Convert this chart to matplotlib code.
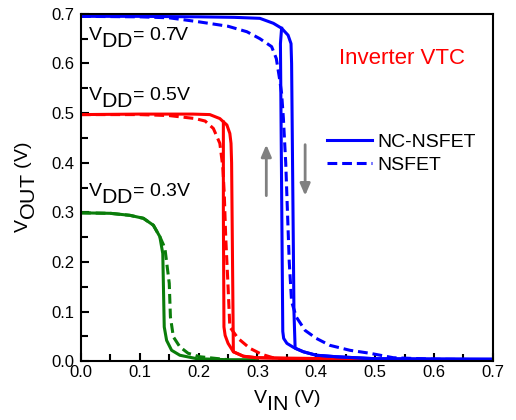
import numpy as np
import matplotlib
matplotlib.use('Agg')
import matplotlib.pyplot as plt
import matplotlib._mathtext as mathtext_internal

# subscripts in the original are about as big as the main text and sit lower
mathtext_internal.SHRINK_FACTOR = 1.1
mathtext_internal.FontConstantsBase.sub1 = 0.7

plt.rcParams['font.family'] = ['Liberation Sans', 'DejaVu Sans']
plt.rcParams['mathtext.fontset'] = 'custom'
plt.rcParams['mathtext.rm'] = 'Liberation Sans'

# VDD = 0.7 V, NC-NSFET (hysteresis: forward and backward sweep)
b_fw_vin = [0.0, 0.1, 0.2, 0.26, 0.304, 0.327, 0.341, 0.352, 0.357, 0.358, 0.360, 0.362, 0.364, 0.378, 0.40, 0.434, 0.5, 0.6, 0.7]
b_fw_vout = [0.695, 0.695, 0.694, 0.693, 0.691, 0.681, 0.671, 0.657, 0.640, 0.60, 0.35, 0.10, 0.026, 0.019, 0.012, 0.009, 0.005, 0.004, 0.004]
b_bw_vin = [0.7, 0.5, 0.434, 0.40, 0.378, 0.361, 0.35, 0.3445, 0.343, 0.341, 0.339, 0.341]
b_bw_vout = [0.004, 0.005, 0.009, 0.012, 0.019, 0.028, 0.036, 0.046, 0.06, 0.35, 0.64, 0.671]
# VDD = 0.7 V, NSFET
b_ns_vin = [0.0, 0.1, 0.15, 0.2, 0.25, 0.282, 0.304, 0.324, 0.332, 0.337, 0.341, 0.344, 0.348, 0.351, 0.354, 0.358, 0.366, 0.381, 0.40, 0.423, 0.457, 0.491, 0.531, 0.6, 0.7]
b_ns_vout = [0.695, 0.694, 0.692, 0.684, 0.675, 0.664, 0.65, 0.634, 0.61, 0.573, 0.54, 0.49, 0.40, 0.30, 0.20, 0.12, 0.089, 0.062, 0.046, 0.032, 0.022, 0.016, 0.007, 0.004, 0.003]

# VDD = 0.5 V
r_fw_vin = [0.0, 0.1, 0.19, 0.219, 0.236, 0.248, 0.253, 0.255, 0.256, 0.259, 0.276, 0.298, 0.4, 0.5]
r_fw_vout = [0.497, 0.498, 0.498, 0.497, 0.489, 0.476, 0.459, 0.439, 0.40, 0.019, 0.010, 0.007, 0.004, 0.004]
r_bw_vin = [0.5, 0.298, 0.276, 0.259, 0.25, 0.245, 0.243, 0.242, 0.242]
r_bw_vout = [0.004, 0.007, 0.010, 0.019, 0.036, 0.052, 0.069, 0.30, 0.482]
r_ns_vin = [0.0, 0.1, 0.15, 0.194, 0.211, 0.225, 0.236, 0.241, 0.2435, 0.246, 0.25, 0.253, 0.267, 0.287, 0.307, 0.332, 0.35]
r_ns_vout = [0.497, 0.497, 0.495, 0.489, 0.484, 0.469, 0.439, 0.392, 0.338, 0.25, 0.15, 0.069, 0.046, 0.026, 0.014, 0.005, 0.003]

# VDD = 0.3 V
g_nc_vin = [0.0, 0.05, 0.083, 0.106, 0.123, 0.134, 0.139, 0.14, 0.1415, 0.1455, 0.154, 0.168, 0.197, 0.25, 0.3]
g_nc_vout = [0.299, 0.298, 0.294, 0.288, 0.274, 0.251, 0.217, 0.157, 0.069, 0.042, 0.022, 0.012, 0.005, 0.003, 0.003]
g_ns_vin = [0.0, 0.05, 0.083, 0.106, 0.123, 0.134, 0.14, 0.143, 0.15, 0.152, 0.157, 0.168, 0.182, 0.202, 0.25]
g_ns_vout = [0.299, 0.298, 0.294, 0.288, 0.274, 0.251, 0.235, 0.224, 0.157, 0.089, 0.049, 0.029, 0.016, 0.009, 0.003]

blue = '#0000ff'
red = '#ff0000'
green = '#0a7d0a'
lw = 2.2
dash = (0, (3.2, 1.6))

fig = plt.figure(figsize=(5.16, 4.2), dpi=100)
ax = fig.add_axes([0.157, 0.140, 0.798, 0.827])

ax.plot(g_ns_vin, g_ns_vout, color=green, lw=lw, ls=dash)
ax.plot(g_nc_vin, g_nc_vout, color=green, lw=lw)
ax.plot(r_ns_vin, r_ns_vout, color=red, lw=lw, ls=dash)
ax.plot(r_fw_vin, r_fw_vout, color=red, lw=lw)
ax.plot(r_bw_vin, r_bw_vout, color=red, lw=lw)
ax.plot(b_ns_vin, b_ns_vout, color=blue, lw=lw, ls=dash, label='NSFET')
ax.plot(b_fw_vin, b_fw_vout, color=blue, lw=lw, label='NC-NSFET')
ax.plot(b_bw_vin, b_bw_vout, color=blue, lw=lw)

ax.set_xlim(0, 0.7)
ax.set_ylim(0, 0.7)
ax.set_xticks(np.arange(0, 0.71, 0.1))
ax.set_yticks(np.arange(0, 0.71, 0.1))
ax.set_xticks(np.arange(0.05, 0.7, 0.1), minor=True)
ax.set_yticks(np.arange(0.05, 0.7, 0.1), minor=True)
ax.tick_params(which='both', direction='in', top=False, right=False, width=1.5, labelsize=12)
ax.tick_params(which='major', length=6)
ax.tick_params(which='minor', length=5)
ax.tick_params(axis='y', pad=5)
ax.tick_params(axis='x', pad=3)
for s in ax.spines.values():
    s.set_linewidth(1.5)

ax.set_xlabel(r'V$_{\mathregular{IN}}$ (V)', fontsize=14, labelpad=6)
ax.set_ylabel(r'V$_{\mathregular{OUT}}$ (V)', fontsize=14, labelpad=9)

ax.text(0.012, 0.652, r'V$_{\mathregular{DD}}$= 0.7V', fontsize=14, va='center')
ax.text(0.012, 0.531, r'V$_{\mathregular{DD}}$= 0.5V', fontsize=14, va='center')
ax.text(0.012, 0.337, r'V$_{\mathregular{DD}}$= 0.3V', fontsize=14, va='center')
ax.text(0.546, 0.611, 'Inverter VTC', color=red, fontsize=16, ha='center', va='center')

arrow = dict(arrowstyle='-|>,head_width=0.3,head_length=0.7', color='#808080', lw=2)
ax.annotate('', xy=(0.315, 0.442), xytext=(0.315, 0.328), arrowprops=arrow)
ax.annotate('', xy=(0.381, 0.328), xytext=(0.381, 0.442), arrowprops=arrow)

h, l = ax.get_legend_handles_labels()
ax.legend([h[1], h[0]], [l[1], l[0]], loc='center left', bbox_to_anchor=(0.555, 0.598),
          frameon=False, fontsize=14, handlelength=2.3, handletextpad=0.3, labelspacing=0.3)

fig.savefig('out.png', dpi=100)
